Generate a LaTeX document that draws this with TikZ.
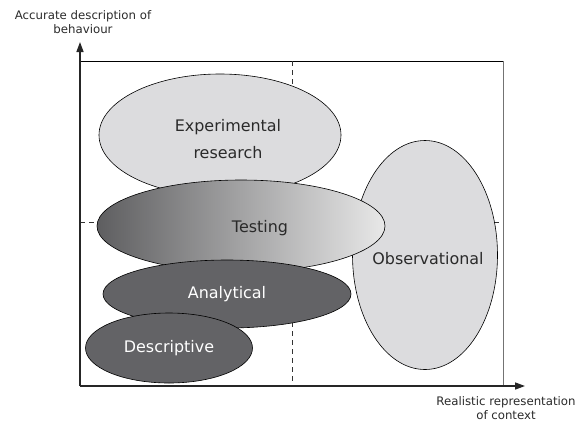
\documentclass[tikz,border=0pt]{standalone}
\usepackage{fontspec}
\setmainfont{DejaVu Sans}
\usetikzlibrary{shapes.geometric,arrows.meta}
\definecolor{lightfill}{HTML}{DCDCDE}
\definecolor{darkfill}{HTML}{636366}
\definecolor{gradleft}{HTML}{5E5E60}
\definecolor{gradright}{HTML}{E8E8E8}
\definecolor{labelgray}{HTML}{2A2A2A}
\begin{document}
\begin{tikzpicture}[x=1bp,y=-1bp,
  zone/.style={ellipse,draw=black,line width=0.6bp,inner sep=0pt,
    font=\fontsize{16}{27}\selectfont,align=center},
  lightzone/.style={zone,fill=lightfill,text=labelgray},
  darkzone/.style={zone,fill=darkfill,text=white},
  axis/.style={line width=1.4bp,draw=black!85,-{Triangle[length=10bp,width=7bp]}},
  guide/.style={dashed,line width=0.7bp,dash pattern=on 5bp off 4bp,draw=black!80},
  axislabel/.style={font=\fontsize{11.8}{14.5}\selectfont,text=labelgray,align=center}]
\useasboundingbox (0,0) rectangle (583,423);

% frame and quadrant guides
\coordinate (o) at (80,386);
\coordinate (tl) at (80,61);
\coordinate (tr) at (503,61);
\coordinate (br) at (503,386);
\draw[line width=0.8bp] (tl) -- (tr);
\draw[line width=0.8bp,draw=black!55] (tr) -- (br);
\coordinate (vtop) at (292,61);
\coordinate (vbot) at (292,386);
\coordinate (hl) at (80,222);
\coordinate (hr) at (503,222);
\draw[guide] (vtop) -- (vbot);
\draw[guide] (hl) -- (hr);

% research approaches
\node[lightzone,minimum width=242bp,minimum height=122bp] (exp) at (220,135) {};
\node[text=labelgray,font=\fontsize{16}{27}\selectfont,align=center] (explabel) at (228,139) {Experimental\\research};
\node[lightzone,minimum width=145bp,minimum height=229bp] (obs) at (425,255) {};
\node[text=labelgray,font=\fontsize{16}{19}\selectfont] (obslabel) at (428,259) {Observational};
\node[zone,left color=gradleft,right color=gradright,minimum width=288bp,minimum height=92bp] (test) at (241,226) {};
\node[text=labelgray,font=\fontsize{16}{19}\selectfont] (testlabel) at (260,228) {Testing};
\node[darkzone,minimum width=248bp,minimum height=68bp] (ana) at (227,294) {Analytical};
\node[darkzone,minimum width=167bp,minimum height=70bp] (desc) at (169,348) {Descriptive};

% axes
\coordinate (ytip) at (80,42);
\coordinate (xtip) at (525,386);
\draw[axis] (o) -- (ytip);
\draw[axis] (o) -- (xtip);
\node[axislabel] (ylabel) at (83,22) {Accurate description of\\behaviour};
\node[axislabel] (xlabel) at (506,408) {Realistic representation\\of context};
\end{tikzpicture}
\end{document}
